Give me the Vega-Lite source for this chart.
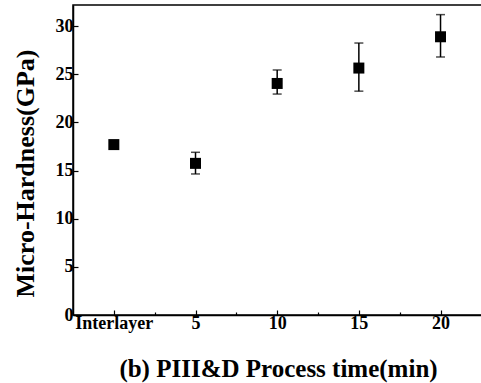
{
  "$schema": "https://vega.github.io/schema/vega-lite/v6.json",
  "autosize": "none",
  "width": 410,
  "height": 310,
  "padding": {"left": 73, "top": 5, "right": 0, "bottom": 68},
  "background": "white",
  "config": {
    "view": {"stroke": "black", "strokeWidth": 1.5},
    "font": "Liberation Serif"
  },
  "data": {
    "values": [
      {"time": 0, "hardness": 17.7, "lo": null, "hi": null},
      {"time": 5, "hardness": 15.75, "lo": 14.65, "hi": 16.9},
      {"time": 10, "hardness": 24.05, "lo": 22.95, "hi": 25.45},
      {"time": 15, "hardness": 25.65, "lo": 23.25, "hi": 28.25},
      {"time": 20, "hardness": 28.9, "lo": 26.8, "hi": 31.2}
    ]
  },
  "encoding": {
    "x": {
      "field": "time", "type": "quantitative",
      "scale": {"domain": [-2.5, 22.6], "nice": false, "zero": false},
      "axis": {
        "zindex": 2,
        "values": [0, 2.5, 5, 7.5, 10, 12.5, 15, 17.5, 20],
        "labelExpr": "datum.value == 0 ? 'Interlayer' : (datum.value % 5 == 0 ? datum.label : '')",
        "title": "(b) PIII&D Process time(min)",
        "titleFontSize": 25, "titleFontWeight": "bold", "titleColor": "black", "titlePadding": 22,
        "labelFontSize": 18, "labelFontWeight": "bold", "labelColor": "black", "labelPadding": 4,
        "labelFlush": false, "labelOverlap": false,
        "grid": false, "domainColor": "black", "domainWidth": 1.5,
        "ticks": true, "tickColor": "black", "tickWidth": 1.2,
        "tickSize": {"condition": {"test": "datum.value % 5 == 0", "value": -5}, "value": -3}
      }
    }
  },
  "layer": [
    {
      "mark": {"type": "rule", "color": "black", "strokeWidth": 1.5},
      "encoding": {
        "y": {"field": "lo", "type": "quantitative"},
        "y2": {"field": "hi"}
      }
    },
    {
      "mark": {"type": "tick", "color": "black", "orient": "horizontal", "size": 9, "thickness": 1.5},
      "encoding": {"y": {"field": "lo", "type": "quantitative"}}
    },
    {
      "mark": {"type": "tick", "color": "black", "orient": "horizontal", "size": 9, "thickness": 1.5},
      "encoding": {"y": {"field": "hi", "type": "quantitative"}}
    },
    {
      "mark": {"type": "point", "shape": "square", "filled": true, "color": "black", "size": 121, "opacity": 1},
      "encoding": {
        "y": {
          "field": "hardness", "type": "quantitative",
          "scale": {"domain": [0, 32.2], "nice": false},
          "axis": {
            "zindex": 2,
            "values": [0, 2.5, 5, 7.5, 10, 12.5, 15, 17.5, 20, 22.5, 25, 27.5, 30],
            "labelExpr": "datum.value % 5 == 0 ? datum.label : ''",
            "title": "Micro-Hardness(GPa)",
            "titleFontSize": 26, "titleFontWeight": "bold", "titleColor": "black", "titlePadding": 17,
            "titleY": 168,
            "labelFontSize": 18, "labelFontWeight": "bold", "labelColor": "black", "labelPadding": 5,
            "labelOverlap": false, "labelFlush": false,
            "grid": false, "domainColor": "black", "domainWidth": 1.5,
            "ticks": true, "tickColor": "black", "tickWidth": 1.2,
            "tickSize": {"condition": {"test": "datum.value % 5 == 0", "value": -5}, "value": -3}
          }
        }
      }
    }
  ]
}
